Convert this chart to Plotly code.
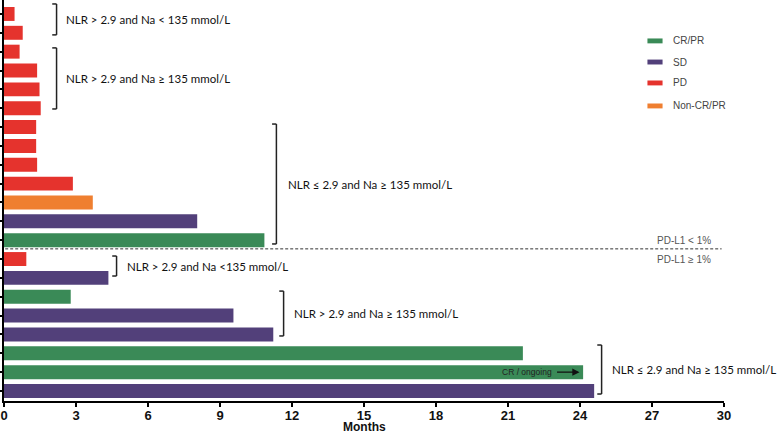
import plotly.graph_objects as go

# ---- data (rows listed top to bottom) ----
months = [0.44, 0.78, 0.65, 1.38, 1.48, 1.53, 1.34, 1.34, 1.38, 2.87, 3.70, 8.05, 10.85,
          0.93, 4.35, 2.78, 9.56, 11.22, 21.62, 24.13, 24.59]
response = ["PD", "PD", "PD", "PD", "PD", "PD", "PD", "PD", "PD", "PD", "Non-CR/PR", "SD", "CR/PR",
            "PD", "SD", "CR/PR", "SD", "SD", "CR/PR", "CR/PR", "SD"]
categories = ["CR/PR", "SD", "PD", "Non-CR/PR"]
group_labels = ["NLR > 2.9 and Na < 135 mmol/L",
                "NLR > 2.9 and Na ≥ 135 mmol/L",
                "NLR ≤ 2.9 and Na ≥ 135 mmol/L",
                "NLR > 2.9 and Na <135 mmol/L",
                "NLR > 2.9 and Na ≥ 135 mmol/L",
                "NLR ≤ 2.9 and Na ≥ 135 mmol/L"]
group_rows = [(0, 1), (2, 5), (6, 12), (13, 14), (15, 17), (18, 20)]
x_ticks = [0, 3, 6, 9, 12, 15, 18, 21, 24, 27, 30]

colors = {"CR/PR": "#3A8A57", "SD": "#52407A", "PD": "#E5332D", "Non-CR/PR": "#EF7F30"}
rows = list(range(len(months)))

fig = go.Figure()
for cat in categories:
    xs = [m for m, r in zip(months, response) if r == cat]
    ys = [i for i, r in zip(rows, response) if r == cat]
    fig.add_trace(go.Bar(x=xs, y=ys, orientation="h", width=0.74,
                         marker=dict(color=colors[cat], line=dict(width=0)),
                         showlegend=False, hoverinfo="x"))

shapes = []
annotations = []

# brackets
bracket_x = [2.19, 2.19, 11.35, 4.69, 11.65, 24.9]
bracket_ext = [(-0.53, 1.11), (1.8, 5.04), (5.84, 12.2), (12.84, 13.9), (14.7, 17.08), (17.56, 20.16)]
text_x = [2.52, 2.52, 11.73, 5.06, 12.02, 25.23]
stub = 0.18
for bx, (y0, y1), tx, lab, (r0, r1) in zip(bracket_x, bracket_ext, text_x, group_labels, group_rows):
    line = dict(color="#222222", width=1.5)
    shapes.append(dict(type="line", xref="x", yref="y", x0=bx, x1=bx, y0=y0, y1=y1, line=line))
    shapes.append(dict(type="line", xref="x", yref="y", x0=bx - stub, x1=bx, y0=y0, y1=y0, line=line))
    shapes.append(dict(type="line", xref="x", yref="y", x0=bx - stub, x1=bx, y0=y1, y1=y1, line=line))
    annotations.append(dict(x=tx, y=(y0 + y1) / 2, xref="x", yref="y", text=lab, showarrow=False,
                            xanchor="left", yanchor="middle",
                            font=dict(family="Lato", size=11.5, color="#111111")))

# PD-L1 divider
shapes.append(dict(type="line", xref="x", yref="y", x0=0.05, x1=29.9, y0=12.46, y1=12.46,
                   line=dict(color="#333333", width=1, dash="3px,2px")))
annotations.append(dict(x=29.55, y=12.02, xref="x", yref="y", text="PD-L1 < 1%", showarrow=False,
                        xanchor="right", yanchor="middle",
                        font=dict(family="Liberation Sans", size=10, color="#555555")))
annotations.append(dict(x=29.55, y=13.0, xref="x", yref="y", text="PD-L1 ≥ 1%", showarrow=False,
                        xanchor="right", yanchor="middle",
                        font=dict(family="Liberation Sans", size=10, color="#555555")))

# legend
leg_y = [1.43, 2.55, 3.66, 4.88]
for cat, ly in zip(categories, leg_y):
    shapes.append(dict(type="rect", xref="x", yref="y", x0=26.81, x1=27.44, y0=ly - 0.13, y1=ly + 0.13,
                       fillcolor=colors[cat], line=dict(width=0)))
    annotations.append(dict(x=27.81, y=ly, xref="x", yref="y", text=cat, showarrow=False,
                            xanchor="left", yanchor="middle",
                            font=dict(family="Liberation Sans", size=10, color="#444444")))

# CR / ongoing
annotations.append(dict(x=22.92, y=19, xref="x", yref="y", text="CR / ongoing", showarrow=False,
                        xanchor="right", yanchor="middle",
                        font=dict(family="Liberation Sans", size=8.5, color="#222222")))
annotations.append(dict(x=23.98, y=19, ax=22.98, ay=19, xref="x", yref="y", axref="x", ayref="y",
                        text="", showarrow=True, arrowhead=2, arrowsize=1.2, arrowwidth=1.2,
                        arrowcolor="#111111"))

# x title
annotations.append(dict(x=15, y=-0.064, xref="x", yref="paper", text="Months", showarrow=False,
                        xanchor="center", yanchor="middle",
                        font=dict(family="Liberation Sans", size=12, color="#111111", weight="bold")))

fig.update_layout(
    width=779, height=431,
    margin=dict(l=4, r=55, t=0, b=30),
    paper_bgcolor="white", plot_bgcolor="white",
    bargap=0.26,
    shapes=shapes, annotations=annotations,
    xaxis=dict(range=[0, 30], tickvals=x_ticks, ticktext=[str(t) for t in x_ticks],
               showgrid=False, zeroline=False, showline=True, linecolor="black", linewidth=2,
               ticks="outside", ticklen=4, tickwidth=2, tickcolor="black", ticklabelstandoff=-3,
               tickfont=dict(family="Liberation Sans", size=13, color="#111111", weight="bold")),
    yaxis=dict(range=[20.53, -0.74], tickvals=rows, showticklabels=False,
               showgrid=False, zeroline=False, showline=True, linecolor="black", linewidth=2,
               ticks="outside", ticklen=4, tickwidth=1.5, tickcolor="black"),
)

fig.write_html("out.html", config={"displayModeBar": False},
               post_script="document.body.style.margin='0';document.body.style.padding='0';"
                           "document.body.style.overflow='hidden';")
